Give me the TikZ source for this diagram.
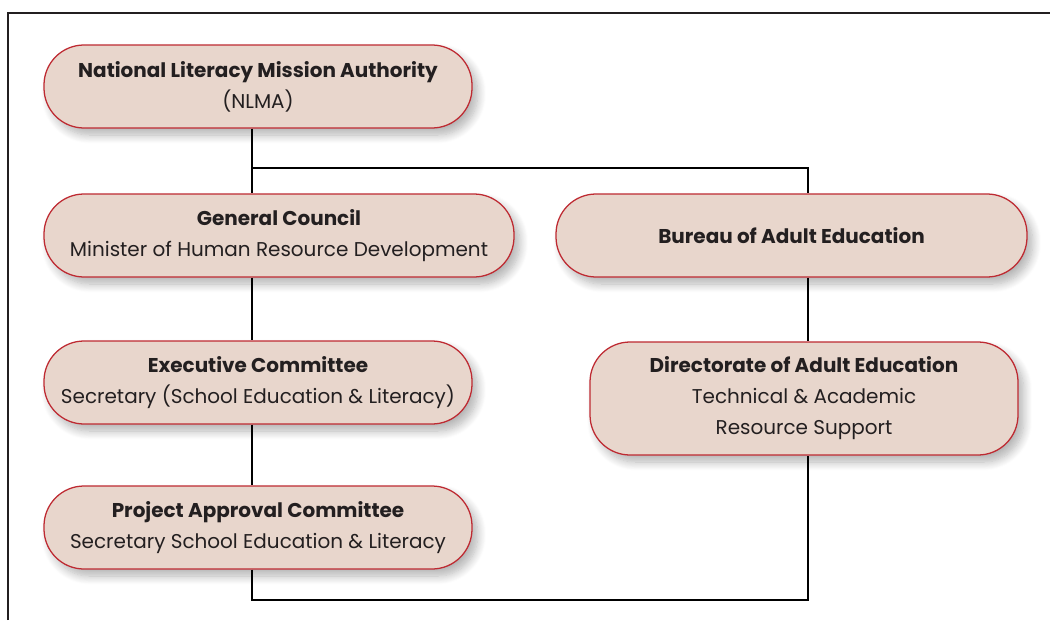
\documentclass[tikz,border=0pt]{standalone}
\usepackage{fontspec}
\setmainfont{Poppins}
\usepackage{xcolor}
\usepackage{tikz}
\usetikzlibrary{positioning,shadows.blur,calc}
\definecolor{boxfill}{HTML}{E8D6CC}
\definecolor{boxline}{HTML}{BE2A32}
\definecolor{inkgray}{HTML}{231F20}

\begin{document}
\begin{tikzpicture}[
		orgbox/.style={rectangle, rounded corners=1cm, draw=boxline, line width=0.9pt,
			fill=boxfill, text=inkgray, align=center, minimum height=2.075cm,
			font=\fontsize{14.2}{22}\selectfont,
			blur shadow={shadow xshift=4pt, shadow yshift=-5pt, shadow blur steps=10, shadow blur radius=6pt, shadow opacity=30}},
		link/.style={draw=black, line width=1.3pt}
		]
		
		% Le cadre
		\useasboundingbox (0,0) rectangle (26.25,-15.5);
		\draw[draw=inkgray, line width=1pt] (0.2,-15.5) -- (0.2,-0.325) -- (26.25,-0.325);
		
		% Les boites
		\node[orgbox, minimum width=10.7cm] (NLMA) at (6.45,-2.1625)
			{\textbf{National Literacy Mission Authority}\\(NLMA)};
		\node[orgbox, minimum width=11.75cm] (GC) at (6.975,-5.8875)
			{\textbf{General Council}\\Minister of Human Resource Development};
		\node[orgbox, minimum width=11.775cm] (BAE) at (19.7875,-5.8875)
			{\textbf{Bureau of Adult Education}};
		\node[orgbox, minimum width=10.7cm] (EC) at (6.45,-9.5625)
			{\textbf{Executive Committee}\\Secretary (School Education \& Literacy)};
		\node[orgbox, minimum width=10.7cm, minimum height=2.825cm] (DAE) at (20.1,-9.9625)
			{\textbf{Directorate of Adult Education}\\Technical \& Academic\\Resource Support};
		\node[orgbox, minimum width=10.7cm] (PAC) at (6.45,-13.1875)
			{\textbf{Project Approval Committee}\\Secretary School Education \& Literacy};
		
		% Les points de passage
		\coordinate (lspine) at (6.3,0);
		\coordinate (rspine) at (20.2,0);
		\coordinate (fork) at (6.3,-4.2);
		\coordinate (base) at (6.3,-15);
		
		% Les liaisons
		\draw[link] (NLMA.south -| lspine) -- (GC.north -| lspine);
		\draw[link] (fork) -- (fork -| rspine) -- (BAE.north -| rspine);
		\draw[link] (GC.south -| lspine) -- (EC.north -| lspine);
		\draw[link] (EC.south -| lspine) -- (PAC.north -| lspine);
		\draw[link] (BAE.south -| rspine) -- (DAE.north -| rspine);
		\draw[link] (PAC.south -| lspine) -- (base) -- (base -| rspine) -- (DAE.south -| rspine);
	\end{tikzpicture}
\end{document}
